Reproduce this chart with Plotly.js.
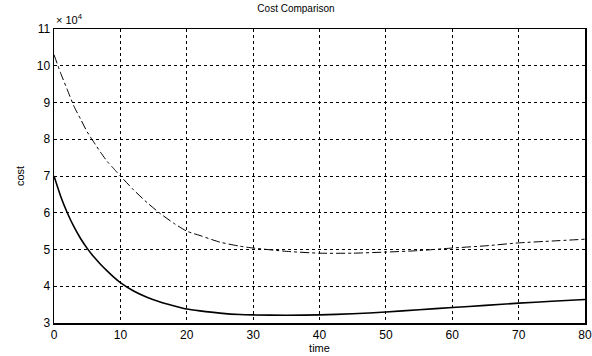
<!DOCTYPE html>
<html><head><meta charset="utf-8">
<script src="https://cdn.plot.ly/plotly-3.0.1.min.js"></script>
<style>html,body{margin:0;padding:0;background:#fff}#chart{width:592px;height:356px}</style>
</head><body><div id="chart"></div>
<script>
const time = [0,1,2,3,4,5,6,7,8,9,10,12,14,16,18,20,22,25,28,30,35,40,45,50,55,60,65,70,75,80];
const costSolid = [70000,64500,60000,56200,53000,50300,48000,46000,44200,42500,41000,38700,37000,35700,34700,33800,33300,32700,32300,32200,32100,32200,32500,33000,33600,34200,34800,35400,35900,36400];
const costDashed = [103000,98000,93500,89000,85500,82000,79200,76500,74000,72000,70000,66200,62800,59800,57200,55000,53800,52000,50900,50400,49500,49000,49000,49300,49700,50400,51000,51800,52300,52800];
const yTickVals = [30000,40000,50000,60000,70000,80000,90000,100000,110000];
const yTickText = ['3','4','5','6','7','8','9','10','11'];
const xTickVals = [0,10,20,30,40,50,60,70,80];

const font = {family:'Liberation Sans, Arial, sans-serif', color:'#000', size:12};
Plotly.newPlot('chart', [
  {x:time, y:costSolid, mode:'lines', line:{color:'#000', width:1.6, shape:'spline', smoothing:0.6}, hoverinfo:'none'},
  {x:time, y:costDashed, mode:'lines', line:{color:'#000', width:1, dash:'dashdot', shape:'spline', smoothing:0.6}, hoverinfo:'none'}
], {
  width:592, height:356,
  margin:{l:54, r:7, t:29, b:33},
  paper_bgcolor:'#fff', plot_bgcolor:'#fff',
  showlegend:false,
  font:font,
  title:{text:'Cost Comparison', font:{family:'Liberation Sans, Arial, sans-serif', size:10, color:'#000'}, x:0.5, xanchor:'center', y:0.985, yanchor:'top'},
  xaxis:{range:[0,80], tickvals:xTickVals, ticks:'', showline:true, mirror:true, linecolor:'#000', linewidth:1.5,
    showgrid:true, gridcolor:'#000', griddash:'dot', gridwidth:1, zeroline:false,
    tickfont:{size:12, color:'#000'},
    title:{text:'time', font:{size:11, color:'#000'}, standoff:2}},
  yaxis:{range:[30000,110000], tickvals:yTickVals, ticktext:yTickText, ticks:'', showline:true, mirror:true, linecolor:'#000', linewidth:1.5,
    showgrid:true, gridcolor:'#000', griddash:'dot', gridwidth:1, zeroline:false,
    tickfont:{size:12, color:'#000'},
    title:{text:'cost', font:{size:11, color:'#000'}, standoff:10}},
  annotations:[{text:'× 10<sup>4</sup>', xref:'paper', yref:'paper', x:0, y:1, xanchor:'left', yanchor:'bottom', showarrow:false, font:{size:11, color:'#000'}, yshift:1}]
}, {staticPlot:true});
</script></body></html>
